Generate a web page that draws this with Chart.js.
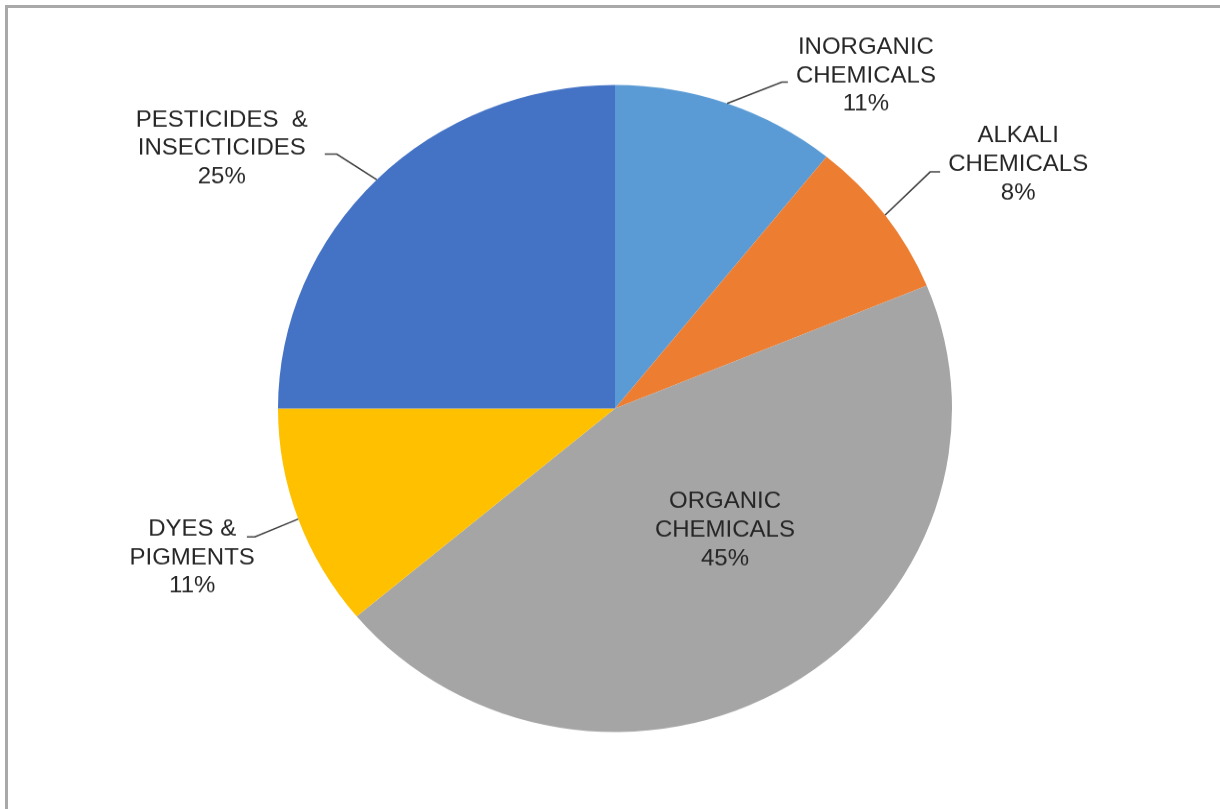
<!DOCTYPE html>
<html><head><meta charset="utf-8">
<script src="https://cdn.jsdelivr.net/npm/chart.js@4.4.1/dist/chart.umd.min.js"></script>
<style>
html,body{margin:0;padding:0;background:#fff;overflow:hidden;width:1220px;height:809px;}
#frame{position:absolute;left:5px;top:5px;width:1300px;height:900px;border-left:3px solid #a9a9a9;border-top:3px solid #a9a9a9;box-sizing:border-box;}
#wrap{position:absolute;left:0;top:0;width:1220px;height:843px;transform:scaleY(0.96);transform-origin:0 0;}
</style></head><body>
<div id="frame"></div>
<div id="wrap"><canvas id="c" width="1220" height="843"></canvas></div>
<script>
// ---- data ----
const categories = ['INORGANIC CHEMICALS', 'ALKALI CHEMICALS', 'ORGANIC CHEMICALS', 'DYES & PIGMENTS', 'PESTICIDES & INSECTICIDES'];
const labelLines = [['INORGANIC', 'CHEMICALS'], ['ALKALI', 'CHEMICALS'], ['ORGANIC', 'CHEMICALS'], ['DYES &', 'PIGMENTS'], ['PESTICIDES  &', 'INSECTICIDES']];
const values = [10.8, 8.0, 45.1, 11.1, 25.0];
const colors = ['#5B9BD5', '#ED7D31', '#A5A5A5', '#FFC000', '#4472C4'];

// ---- label placement styles (per slice) ----
const labelStyles = [
  { side: 'right', angle: 6.7, r: 1.124, seg: 6, gap: 8, dy: -8.3 },
  { side: 'right', angle: -1.3, r: 1.187, seg: 10, gap: 8, dy: -9.9 },
  { inside: true, angle: -10.2, r: 0.494 },
  { side: 'left', angle: -0.4, r: 1.14, seg: 8, gap: -8, dy: 19.8 },
  { side: 'left', angle: -1.4, r: 1.14, seg: 12, gap: 17, dy: -7.8 }
];

const leaderPlugin = {
  id: 'leaderLabels',
  afterDatasetsDraw(chart, args, opts) {
    const ctx = chart.ctx;
    const meta = chart.getDatasetMeta(0);
    const total = values.reduce((a, b) => a + b, 0);
    const size = opts.size;
    ctx.save();
    ctx.font = size + 'px "Liberation Sans", Arial, sans-serif';
    ctx.fillStyle = opts.color;
    ctx.strokeStyle = opts.lineColor;
    ctx.lineWidth = opts.lineWidth;
    ctx.textAlign = 'center';
    ctx.textBaseline = 'alphabetic';
    meta.data.forEach((arc, i) => {
      const p = arc.getProps(['x', 'y', 'startAngle', 'endAngle', 'outerRadius'], true);
      const mid = (p.startAngle + p.endAngle) / 2;
      const st = opts.styles[i];
      const lines = labelLines[i].concat([Math.round(values[i] / total * 100) + '%']);
      const maxW = Math.max(...lines.map(l => ctx.measureText(l).width));
      let cx, cy;
      const a = mid + st.angle * Math.PI / 180;
      if (st.inside) {
        cx = p.x + Math.cos(a) * p.outerRadius * st.r;
        cy = p.y + Math.sin(a) * p.outerRadius * st.r;
      } else {
        const sx = p.x + Math.cos(mid) * p.outerRadius;
        const sy = p.y + Math.sin(mid) * p.outerRadius;
        const ex = p.x + Math.cos(a) * p.outerRadius * st.r;
        const ey = p.y + Math.sin(a) * p.outerRadius * st.r;
        const dir = st.side === 'right' ? 1 : -1;
        const hx = ex + dir * st.seg;
        ctx.beginPath();
        ctx.moveTo(sx, sy);
        ctx.lineTo(ex, ey);
        ctx.lineTo(hx, ey);
        ctx.stroke();
        cx = hx + dir * (st.gap + maxW / 2);
        cy = ey + st.dy;
      }
      lines.forEach((l, k) => {
        ctx.fillText(l, cx, cy + (k - 1) * opts.lineHeight + 0.358 * size);
      });
    });
    ctx.restore();
  }
};

new Chart(document.getElementById('c'), {
  type: 'pie',
  data: {
    labels: categories,
    datasets: [{ data: values, backgroundColor: colors, borderWidth: 0, hoverOffset: 0 }]
  },
  options: {
    responsive: false,
    animation: false,
    layout: { padding: { top: 88.5, bottom: 80.5, left: 10, right: 0 } },
    plugins: {
      legend: { display: false },
      tooltip: { enabled: false },
      leaderLabels: { styles: labelStyles, size: 24, lineHeight: 29.7, color: '#262626', lineColor: '#404040', lineWidth: 1.5 }
    }
  },
  plugins: [leaderPlugin]
});
</script>
</body></html>
